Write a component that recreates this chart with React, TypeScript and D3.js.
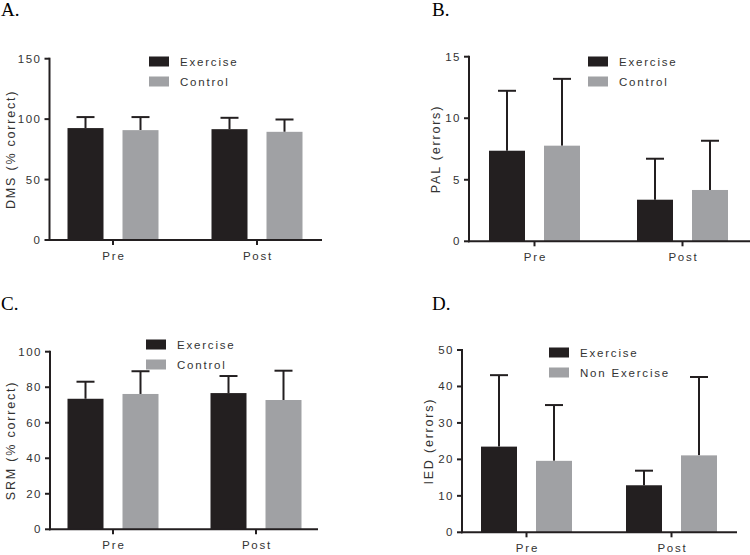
import React from 'react';
import * as d3 from 'd3';

const groups = ['Pre', 'Post'];

// panel A - DMS
const dmsExercise = [92.6, 91.7];
const dmsExerciseErr = [9.1, 9.4];
const dmsControl = [90.9, 89.5];
const dmsControlErr = [10.8, 10.2];
const dmsTicks = [0, 50, 100, 150];

// panel B - PAL
const palExercise = [7.36, 3.38];
const palExerciseErr = [4.87, 3.33];
const palControl = [7.77, 4.17];
const palControlErr = [5.43, 4.0];
const palTicks = [0, 5, 10, 15];

// panel C - SRM
const srmExercise = [73.5, 76.7];
const srmExerciseErr = [9.6, 9.6];
const srmControl = [76.2, 72.8];
const srmControlErr = [12.8, 16.5];
const srmTicks = [0, 20, 40, 60, 80, 100];

// panel D - IED
const iedExercise = [23.5, 12.9];
const iedExerciseErr = [19.6, 4.0];
const iedControl = [19.6, 21.1];
const iedControlErr = [15.3, 21.5];
const iedTicks = [0, 10, 20, 30, 40, 50];

const BLACK = '#231f20';
const GREY = '#a0a1a4';
const FONT = '"Liberation Sans", Arial, sans-serif';

interface PanelProps {
  letter: string;
  letterX: number;
  letterY: number;
  yLabel: string;
  axisX: number;
  yTop: number;
  yBottom: number;
  axisEnd: number;
  preX: number;
  postX: number;
  ticks: number[];
  a: number[];
  aErr: number[];
  b: number[];
  bErr: number[];
  names: string[];
  legendX: number;
  legendY: number;
  labelX: number;
}

const Panel: React.FC<PanelProps> = (p) => {
  const y = d3
    .scaleLinear()
    .domain([0, p.ticks[p.ticks.length - 1]])
    .range([p.yBottom, p.yTop]);
  const x = d3
    .scalePoint<string>()
    .domain(groups)
    .range([p.preX, p.postX]);
  const barW = 36;
  const gap = 19;
  const series = [
    { vals: p.a, errs: p.aErr, color: BLACK, off: -gap / 2 - barW },
    { vals: p.b, errs: p.bErr, color: GREY, off: gap / 2 },
  ];
  const midY = (p.yTop + p.yBottom) / 2;

  return (
    <g>
      <text x={p.letterX} y={p.letterY} fontFamily='"Liberation Serif", "Times New Roman", serif' fontSize={19} fill="#000">
        {p.letter}
      </text>
      {series.map((s, si) =>
        groups.map((g, i) => {
          const bx = (x(g) as number) + s.off;
          const cx = bx + barW / 2;
          const top = y(s.vals[i]);
          const errTop = y(s.vals[i] + s.errs[i]);
          return (
            <g key={`${si}-${g}`}>
              <line x1={cx} x2={cx} y1={top} y2={errTop} stroke={BLACK} strokeWidth={2} />
              <line x1={cx - 9} x2={cx + 9} y1={errTop} y2={errTop} stroke={BLACK} strokeWidth={2} />
              <rect x={bx} y={top} width={barW} height={p.yBottom - top} fill={s.color} />
            </g>
          );
        })
      )}
      {/* y axis */}
      <line x1={p.axisX} x2={p.axisX} y1={p.yTop - 1} y2={p.yBottom + 1} stroke={BLACK} strokeWidth={2} />
      {p.ticks.map((t) => (
        <g key={t}>
          <line x1={p.axisX - 5} x2={p.axisX} y1={y(t)} y2={y(t)} stroke={BLACK} strokeWidth={2} />
          <text
            x={p.axisX - 8}
            y={y(t)}
            dy="0.35em"
            textAnchor="end"
            fontFamily={FONT}
            fontSize={11.5}
            letterSpacing={1.5}
            fill="#333"
          >
            {t}
          </text>
        </g>
      ))}
      {/* x axis */}
      <line x1={p.axisX - 1} x2={p.axisEnd} y1={p.yBottom} y2={p.yBottom} stroke={BLACK} strokeWidth={2} />
      {groups.map((g) => (
        <g key={g}>
          <line x1={x(g)} x2={x(g)} y1={p.yBottom} y2={p.yBottom + 5} stroke={BLACK} strokeWidth={2} />
          <text
            x={(x(g) as number) + 1}
            y={p.yBottom + 20}
            textAnchor="middle"
            fontFamily={FONT}
            fontSize={11.5}
            letterSpacing={1.8}
            fill="#333"
          >
            {g}
          </text>
        </g>
      ))}
      <text
        transform={`translate(${p.labelX},${midY}) rotate(-90)`}
        textAnchor="middle"
        fontFamily={FONT}
        fontSize={12.5}
        letterSpacing={1.8}
        fill="#333"
      >
        {p.yLabel}
      </text>
      {/* legend */}
      {p.names.map((n, i) => (
        <g key={n} transform={`translate(${p.legendX},${p.legendY + i * 20})`}>
          <rect x={0} y={-5} width={20} height={10} fill={i === 0 ? BLACK : GREY} />
          <text x={31} y={0} dy="0.35em" fontFamily={FONT} fontSize={11.5} letterSpacing={1.8} fill="#333">
            {n}
          </text>
        </g>
      ))}
    </g>
  );
};

const App: React.FC = () => (
  <svg width={750} height={555} style={{ position: 'absolute', left: 0, top: 0, background: '#fff' }}>
    <Panel
      letter="A."
      letterX={1}
      letterY={16}
      yLabel="DMS (% correct)"
      axisX={49.5}
      yTop={58.7}
      yBottom={240}
      axisEnd={322}
      preX={113}
      postX={257}
      ticks={dmsTicks}
      a={dmsExercise}
      aErr={dmsExerciseErr}
      b={dmsControl}
      bErr={dmsControlErr}
      names={['Exercise', 'Control']}
      legendX={149}
      legendY={61.5}
      labelX={15}
    />
    <Panel
      letter="B."
      letterX={432}
      letterY={16}
      yLabel="PAL (errors)"
      axisX={469}
      yTop={56.7}
      yBottom={241.3}
      axisEnd={750}
      preX={534.5}
      postX={682.5}
      ticks={palTicks}
      a={palExercise}
      aErr={palExerciseErr}
      b={palControl}
      bErr={palControlErr}
      names={['Exercise', 'Control']}
      legendX={588}
      legendY={61.5}
      labelX={440}
    />
    <Panel
      letter="C."
      letterX={1}
      letterY={310}
      yLabel="SRM  (% correct)"
      axisX={50}
      yTop={351.7}
      yBottom={529.3}
      axisEnd={318}
      preX={113}
      postX={256}
      ticks={srmTicks}
      a={srmExercise}
      aErr={srmExerciseErr}
      b={srmControl}
      bErr={srmControlErr}
      names={['Exercise', 'Control']}
      legendX={146}
      legendY={344.5}
      labelX={15}
    />
    <Panel
      letter="D."
      letterX={432}
      letterY={310}
      yLabel="IED  (errors)"
      axisX={462}
      yTop={350}
      yBottom={532.3}
      axisEnd={737}
      preX={526.5}
      postX={671.5}
      ticks={iedTicks}
      a={iedExercise}
      aErr={iedExerciseErr}
      b={iedControl}
      bErr={iedControlErr}
      names={['Exercise', 'Non Exercise']}
      legendX={549}
      legendY={352.5}
      labelX={433}
    />
  </svg>
);

export default App;
